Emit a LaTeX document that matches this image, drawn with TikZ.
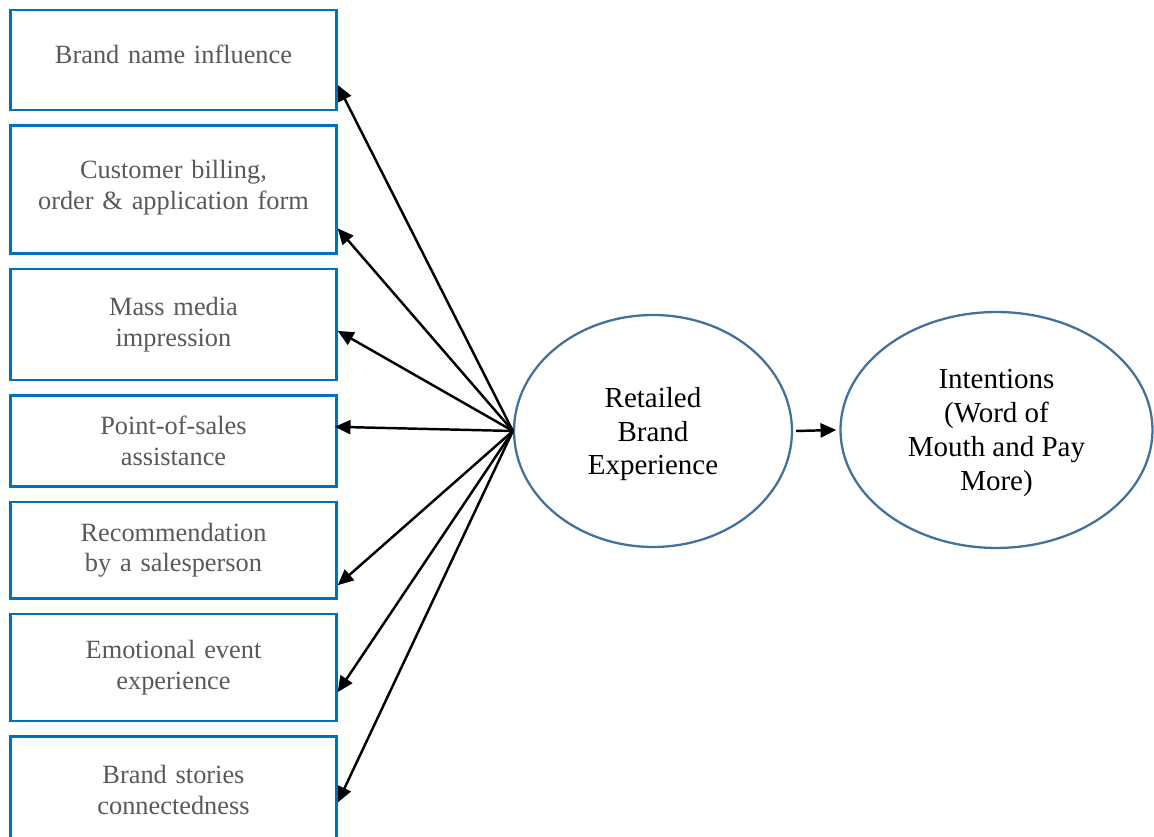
\documentclass[tikz,border=0pt]{standalone}
\usepackage{fontspec}
\setmainfont{Liberation Serif}
\usepackage{xcolor}
\usepackage{tikz}
\usetikzlibrary{shapes.geometric, arrows.meta, positioning, calc}

\definecolor{boxblue}{HTML}{0070C0}
\definecolor{ellblue}{HTML}{41719C}
\definecolor{textgray}{HTML}{595959}

\begin{document}
\begin{tikzpicture}[
    x=0.02cm, y=0.02cm,
    node distance=0.26cm,
    factor/.style={rectangle, draw=boxblue, line width=1.4pt, minimum width=6.52cm, text width=6.3cm, align=center, text=textgray, inner sep=0pt, font=\fontsize{15}{17.6}\selectfont},
    construct/.style={ellipse, draw=ellblue, line width=1.3pt, align=center, inner sep=0pt, text depth=0pt, font=\fontsize{16.5}{19}\selectfont},
    arr/.style={-{Triangle[length=9pt, width=8pt]}, line width=1.4pt}
]
    \useasboundingbox (0,0) rectangle (1154,837);

    \node[factor, minimum height=2cm, text depth=0.25cm] (brand) at (173.5,777) {Brand name influence};
    \node[factor, minimum height=2.56cm, below=of brand, text depth=0.79cm] (billing) {Customer billing,\\order \& application form};
    \node[factor, minimum height=2.22cm, below=of billing] (media) {Mass media\\ impression};
    \node[factor, minimum height=1.82cm, below=of media] (pos) {Point-of-sales\\assistance};
    \node[factor, minimum height=1.94cm, below=of pos] (recom) {Recommendation\\by a salesperson};
    \node[factor, minimum height=2.14cm, below=of recom] (emot) {Emotional event\\experience};
    \node[factor, minimum height=2.14cm, below=of emot] (stories) {Brand stories\\connectedness};

    \node[construct, minimum width=5.56cm, minimum height=4.64cm] (rbe) at (653,406) {Retailed\\Brand\\Experience};
    \node[construct, minimum width=6.24cm, minimum height=4.72cm, text depth=-0.12cm, font=\fontsize{16.5}{19.4}\selectfont] (intent) at (996.5,407) {Intentions\\(Word of\\Mouth and Pay\\More)};

    \draw[arr] ([xshift=0.06cm]rbe.east) -- ([xshift=-0.06cm]intent.west);

    \draw[arr] (rbe.west) -- ([yshift=-0.5cm]brand.east);
    \draw[arr] (rbe.west) -- ([yshift=-0.78cm]billing.east);
    \draw[arr] (rbe.west) -- ([yshift=-0.13cm]media.east);
    \draw[arr] (rbe.west) -- ([xshift=-0.06cm, yshift=0.28cm]pos.east);
    \draw[arr] (rbe.west) -- ([yshift=-0.7cm]recom.east);
    \draw[arr] (rbe.west) -- ([yshift=-0.49cm]emot.east);
    \draw[arr] (rbe.west) -- ([yshift=-0.25cm]stories.east);
\end{tikzpicture}
\end{document}
